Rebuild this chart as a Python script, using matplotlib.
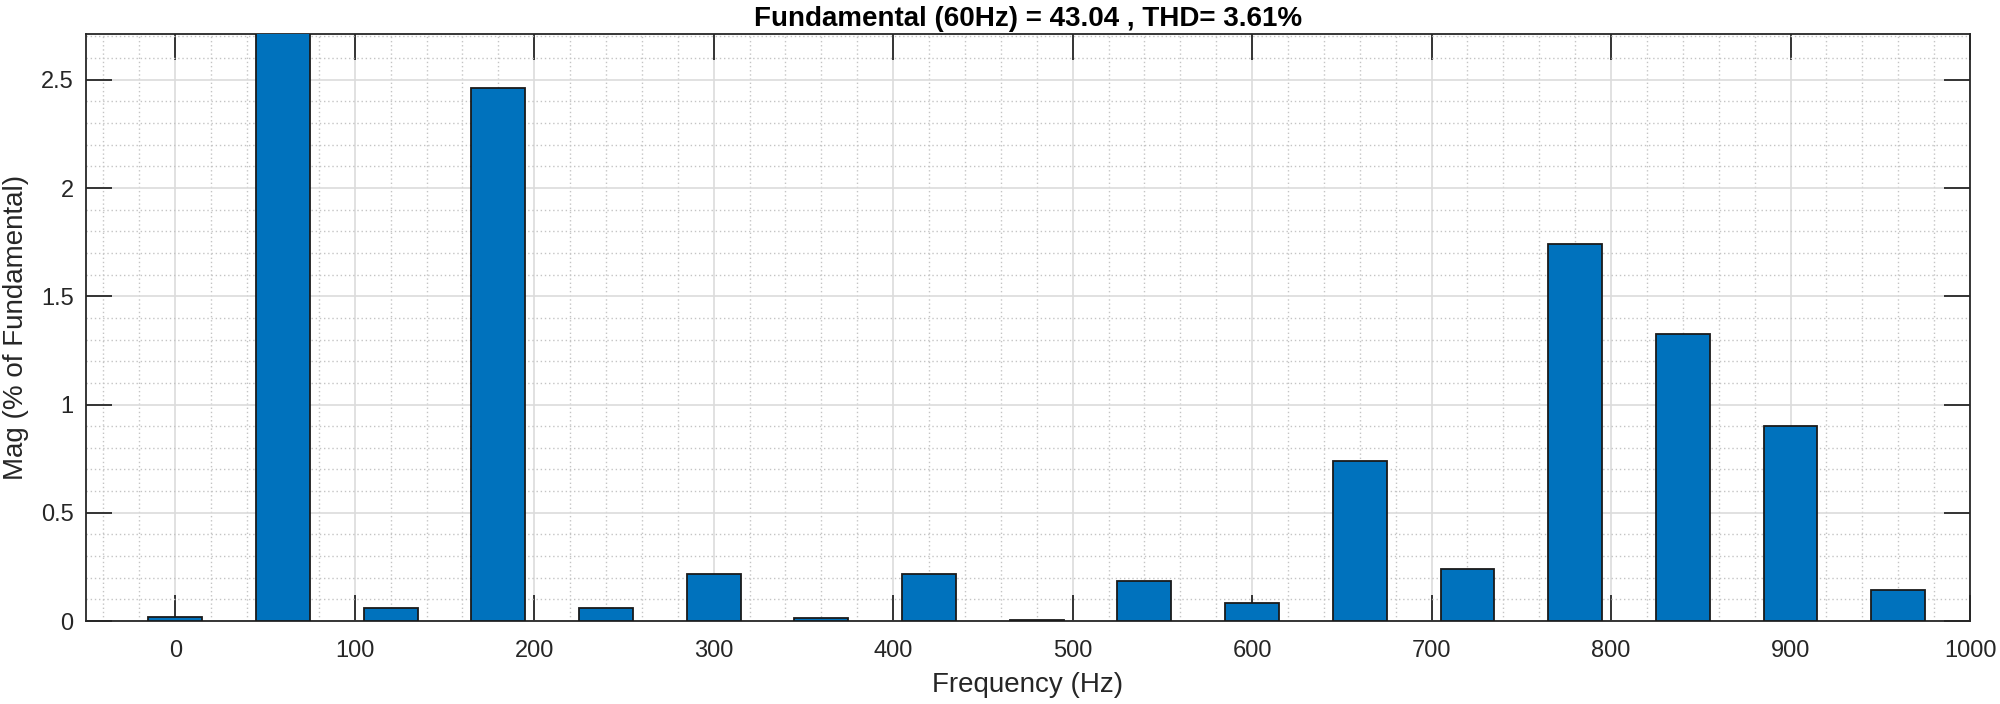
import matplotlib
matplotlib.use("Agg")
import matplotlib.pyplot as plt
from matplotlib.ticker import MultipleLocator

# Data
freqs = [0, 60, 120, 180, 240, 300, 360, 420, 480, 540, 600, 660, 720, 780, 840, 900, 960]
mags = [0.02, 100.0, 0.059, 2.464, 0.061, 0.218, 0.015, 0.218, 0.006, 0.185,
        0.085, 0.739, 0.24, 1.741, 1.326, 0.899, 0.142]
title_text = "Fundamental (60Hz) = 43.04 , THD= 3.61%"
xlabel_text = "Frequency (Hz)"
ylabel_text = "Mag (% of Fundamental)"
xticks = [0, 100, 200, 300, 400, 500, 600, 700, 800, 900, 1000]
yticks = [0, 0.5, 1, 1.5, 2, 2.5]
ytick_labels = ["0", "0.5", "1", "1.5", "2", "2.5"]

plt.rcParams['font.family'] = ['Liberation Sans', 'DejaVu Sans']

fig = plt.figure(figsize=(20, 7.04), dpi=100)
ax = fig.add_axes([85.5/2000, 1-621/704, (1970-85.5)/2000, (621-34.3)/704])

ax.bar(freqs, mags, width=30, color="#0072BD", edgecolor="#1a1a1a", linewidth=1.3, zorder=3)

ax.set_xlim(-50, 1000)
ax.set_ylim(0, 2.71)
ax.set_xticks(xticks)
ax.set_yticks(yticks)
ax.set_yticklabels(ytick_labels)
ax.xaxis.set_minor_locator(MultipleLocator(20))
ax.yaxis.set_minor_locator(MultipleLocator(0.1))

ax.grid(True, which="major", color="#dcdcdc", linewidth=1.2, zorder=0)
ax.grid(True, which="minor", color="#c4c4c4", linestyle=(0, (1, 2)), linewidth=1.0, zorder=0)
ax.set_axisbelow(True)

ax.tick_params(which="major", direction="in", length=19, width=1.3, color="#262626",
               top=True, right=True, labelsize=17, labelcolor="#262626")
ax.tick_params(which="minor", length=0, top=True, right=True)
ax.tick_params(axis="x", pad=14)
ax.tick_params(axis="y", pad=8.5)
for s in ax.spines.values():
    s.set_color("#262626")
    s.set_linewidth(1.3)

ax.set_title(title_text, fontsize=20, fontweight="bold", color="black", pad=6)
ax.set_xlabel(xlabel_text, fontsize=20, color="#262626", va="center")
ax.xaxis.set_label_coords(0.5, -(685 - 621) / 586.7)
ax.set_ylabel(ylabel_text, fontsize=20, color="#262626")
ax.yaxis.set_label_coords((29 - 85.5) / 1884.5, 0.5)

fig.savefig("out.png", dpi=100)
